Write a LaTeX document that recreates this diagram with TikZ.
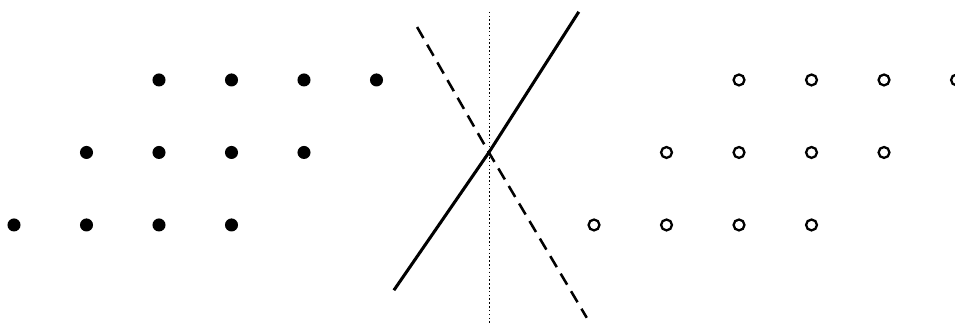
\documentclass[tikz,border=0pt]{standalone}
\usepackage{tikz}
\usetikzlibrary{positioning}

\begin{document}
\begin{tikzpicture}[x=1cm,y=1cm,
    fdot/.style={circle,fill=black,inner sep=0pt,minimum size=0.18cm},
    odot/.style={circle,draw=black,line width=0.9pt,inner sep=0pt,minimum size=0.15cm},
    solidline/.style={line width=1.2pt},
    dashline/.style={line width=1pt,dash pattern=on 5pt off 3pt},
    dotline/.style={line width=0.6pt,dash pattern=on 0.6pt off 0.9pt}]
    \useasboundingbox (-0.193,-1.352) rectangle (12.979,3.103);

    % filled points
    \foreach \r in {0,1,2}
        \foreach \c in {0,1,2,3}
            \node[fdot] (f\r\c) at (\c+\r,\r) {};

    % open points
    \foreach \r in {0,1,2}
        \foreach \c in {0,1,2,3}
            \node[odot] (o\r\c) at (8+\c+\r,\r) {};

    % separating lines
    \coordinate (mid) at (6.55,1.0);
    \coordinate (s1) at (5.24,-0.90);
    \coordinate (s2) at (7.79,2.94);
    \coordinate (d1) at (5.56,2.73);
    \coordinate (d2) at (7.90,-1.28);
    \coordinate (v1) at (6.56,2.94);
    \coordinate (v2) at (6.56,-1.352);

    \draw[dotline] (v1) -- (v2);
    \draw[dashline] (d1) -- (mid) -- (d2);
    \draw[solidline] (s1) -- (mid) -- (s2);
\end{tikzpicture}
\end{document}
